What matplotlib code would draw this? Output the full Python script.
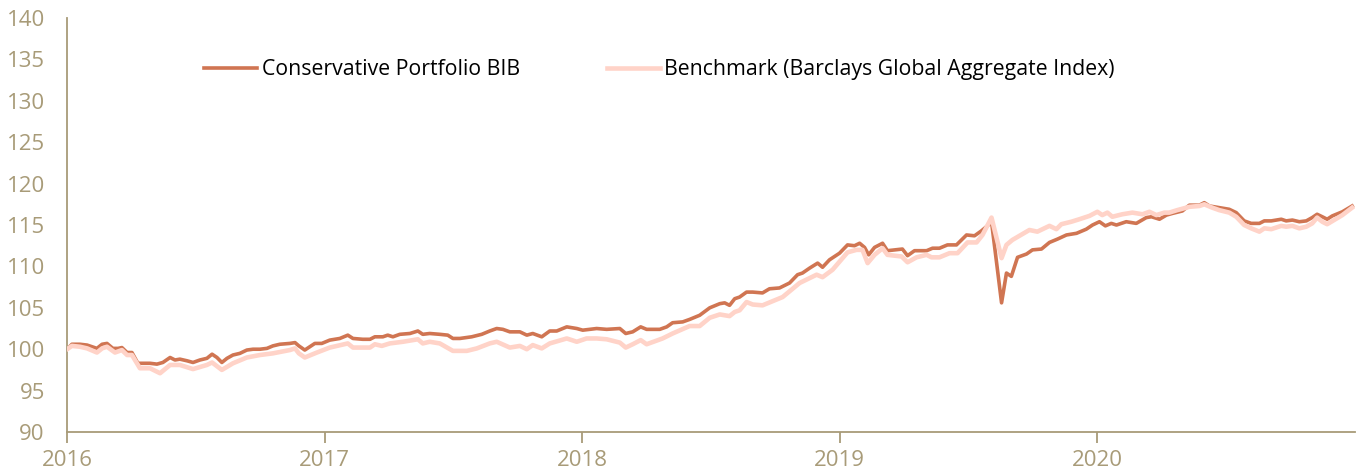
import matplotlib
matplotlib.use("Agg")
import matplotlib.pyplot as plt

plt.rcParams['font.family'] = ['Open Sans', 'DejaVu Sans']

# time in decimal years, values indexed to 100
t_port = [2016.000, 2016.019, 2016.050, 2016.078, 2016.116, 2016.136, 2016.155, 2016.178, 2016.198, 2016.213,
          2016.233, 2016.252, 2016.275, 2016.295, 2016.322, 2016.349, 2016.372, 2016.400, 2016.419, 2016.438,
          2016.466, 2016.489, 2016.516, 2016.543, 2016.563, 2016.582, 2016.601, 2016.621, 2016.644, 2016.671,
          2016.698, 2016.722, 2016.749, 2016.776, 2016.799, 2016.826, 2016.865, 2016.885, 2016.900, 2016.923,
          2016.962, 2016.989, 2017.020, 2017.059, 2017.090, 2017.110, 2017.148, 2017.176, 2017.195, 2017.226,
          2017.245, 2017.265, 2017.292, 2017.331, 2017.362, 2017.381, 2017.408, 2017.447, 2017.478, 2017.498,
          2017.525, 2017.571, 2017.610, 2017.641, 2017.668, 2017.692, 2017.719, 2017.758, 2017.785, 2017.808,
          2017.843, 2017.874, 2017.901, 2017.940, 2017.979, 2018.002, 2018.056, 2018.095, 2018.146, 2018.169,
          2018.196, 2018.227, 2018.250, 2018.301, 2018.328, 2018.351, 2018.390, 2018.417, 2018.456, 2018.495,
          2018.534, 2018.553, 2018.572, 2018.592, 2018.611, 2018.638, 2018.662, 2018.700, 2018.727, 2018.766,
          2018.805, 2018.836, 2018.855, 2018.883, 2018.914, 2018.933, 2018.960, 2018.999, 2019.030, 2019.057,
          2019.077, 2019.096, 2019.112, 2019.135, 2019.166, 2019.185, 2019.243, 2019.263, 2019.290, 2019.337,
          2019.360, 2019.387, 2019.418, 2019.453, 2019.492, 2019.523, 2019.550, 2019.573, 2019.589, 2019.628,
          2019.647, 2019.666, 2019.690, 2019.725, 2019.748, 2019.783, 2019.814, 2019.845, 2019.880, 2019.919,
          2019.957, 2019.981, 2020.008, 2020.031, 2020.054, 2020.074, 2020.112, 2020.151, 2020.190, 2020.210,
          2020.241, 2020.268, 2020.291, 2020.330, 2020.357, 2020.396, 2020.415, 2020.435, 2020.473, 2020.512,
          2020.539, 2020.570, 2020.597, 2020.629, 2020.648, 2020.675, 2020.714, 2020.733, 2020.757, 2020.784,
          2020.811, 2020.834, 2020.853, 2020.873, 2020.892, 2020.912, 2020.951, 2020.989]
portfolio = [100.0, 100.6, 100.6, 100.5, 100.1, 100.6, 100.7, 100.1, 100.1, 100.2,
             99.6, 99.6, 98.3, 98.3, 98.3, 98.2, 98.4, 99.0, 98.7, 98.8,
             98.6, 98.4, 98.7, 98.9, 99.4, 99.0, 98.4, 98.9, 99.3, 99.5,
             99.9, 100.0, 100.0, 100.1, 100.4, 100.6, 100.7, 100.8, 100.4, 99.9,
             100.7, 100.7, 101.1, 101.3, 101.7, 101.3, 101.2, 101.2, 101.5, 101.5,
             101.7, 101.5, 101.8, 101.9, 102.2, 101.8, 101.9, 101.8, 101.7, 101.3,
             101.3, 101.5, 101.8, 102.2, 102.5, 102.4, 102.1, 102.1, 101.7, 101.9,
             101.5, 102.2, 102.2, 102.7, 102.5, 102.3, 102.5, 102.4, 102.5, 101.9,
             102.1, 102.7, 102.4, 102.4, 102.7, 103.2, 103.3, 103.6, 104.1, 105.0,
             105.5, 105.6, 105.3, 106.1, 106.3, 106.9, 106.9, 106.8, 107.3, 107.4,
             108.0, 109.0, 109.2, 109.8, 110.4, 109.9, 110.8, 111.6, 112.6, 112.5,
             112.8, 112.3, 111.4, 112.3, 112.8, 111.9, 112.1, 111.3, 111.9, 111.9,
             112.2, 112.2, 112.6, 112.6, 113.8, 113.7, 114.3, 114.9, 115.4, 105.6,
             109.2, 108.8, 111.1, 111.5, 112.0, 112.1, 112.9, 113.3, 113.8, 114.0,
             114.5, 115.0, 115.4, 114.9, 115.2, 115.0, 115.4, 115.2, 115.9, 116.0,
             115.7, 116.2, 116.4, 116.7, 117.4, 117.4, 117.7, 117.3, 117.1, 116.9,
             116.5, 115.5, 115.2, 115.2, 115.5, 115.5, 115.7, 115.5, 115.6, 115.4,
             115.5, 115.9, 116.3, 116.0, 115.7, 116.1, 116.6, 117.3]

t_bench = [2016.000, 2016.019, 2016.050, 2016.078, 2016.116, 2016.136, 2016.155, 2016.186, 2016.213, 2016.233,
           2016.252, 2016.283, 2016.322, 2016.361, 2016.400, 2016.438, 2016.489, 2016.543, 2016.563, 2016.601,
           2016.644, 2016.698, 2016.749, 2016.799, 2016.865, 2016.885, 2016.900, 2016.923, 2016.970, 2017.020,
           2017.090, 2017.110, 2017.176, 2017.195, 2017.222, 2017.253, 2017.304, 2017.362, 2017.381, 2017.408,
           2017.447, 2017.498, 2017.552, 2017.591, 2017.641, 2017.668, 2017.719, 2017.758, 2017.785, 2017.808,
           2017.843, 2017.874, 2017.940, 2017.979, 2018.017, 2018.056, 2018.095, 2018.146, 2018.169, 2018.196,
           2018.227, 2018.250, 2018.312, 2018.351, 2018.417, 2018.456, 2018.495, 2018.534, 2018.572, 2018.592,
           2018.611, 2018.638, 2018.662, 2018.700, 2018.739, 2018.778, 2018.844, 2018.910, 2018.933, 2018.972,
           2019.011, 2019.030, 2019.065, 2019.088, 2019.108, 2019.135, 2019.166, 2019.185, 2019.240, 2019.263,
           2019.298, 2019.337, 2019.356, 2019.387, 2019.426, 2019.457, 2019.496, 2019.531, 2019.554, 2019.589,
           2019.628, 2019.647, 2019.670, 2019.709, 2019.736, 2019.767, 2019.814, 2019.841, 2019.860, 2019.899,
           2019.930, 2019.969, 2020.000, 2020.019, 2020.039, 2020.058, 2020.097, 2020.136, 2020.175, 2020.202,
           2020.229, 2020.260, 2020.279, 2020.310, 2020.357, 2020.396, 2020.415, 2020.446, 2020.473, 2020.512,
           2020.539, 2020.570, 2020.597, 2020.629, 2020.648, 2020.675, 2020.714, 2020.733, 2020.757, 2020.784,
           2020.811, 2020.834, 2020.853, 2020.873, 2020.892, 2020.951, 2020.989]
benchmark = [100.0, 100.4, 100.3, 100.1, 99.6, 100.1, 100.3, 99.6, 99.9, 99.3,
             99.3, 97.7, 97.7, 97.1, 98.1, 98.1, 97.6, 98.1, 98.4, 97.5,
             98.3, 99.0, 99.3, 99.5, 99.9, 100.1, 99.5, 99.0, 99.6, 100.2,
             100.7, 100.2, 100.2, 100.6, 100.4, 100.7, 100.9, 101.2, 100.7, 100.9,
             100.7, 99.8, 99.8, 100.1, 100.7, 100.9, 100.2, 100.4, 100.0, 100.5,
             100.1, 100.7, 101.3, 100.9, 101.3, 101.3, 101.2, 100.8, 100.2, 100.6,
             101.1, 100.6, 101.3, 101.9, 102.8, 102.8, 103.8, 104.2, 104.0, 104.5,
             104.7, 105.7, 105.4, 105.3, 105.8, 106.3, 108.0, 109.0, 108.7, 109.6,
             111.0, 111.7, 112.0, 112.0, 110.4, 111.4, 112.2, 111.4, 111.2, 110.5,
             111.1, 111.4, 111.1, 111.1, 111.6, 111.6, 112.9, 112.9, 113.8, 115.9,
             111.0, 112.6, 113.2, 113.9, 114.4, 114.2, 114.9, 114.5, 115.1, 115.4,
             115.7, 116.1, 116.6, 116.2, 116.5, 116.0, 116.3, 116.5, 116.3, 116.6,
             116.2, 116.5, 116.5, 116.8, 117.2, 117.3, 117.5, 117.1, 116.8, 116.5,
             116.0, 115.0, 114.6, 114.2, 114.6, 114.5, 114.9, 114.8, 114.9, 114.6,
             114.8, 115.2, 115.9, 115.4, 115.1, 116.2, 117.1]

years = [2016, 2017, 2018, 2019, 2020]
y_ticks = list(range(90, 141, 5))

axis_col = '#A89B78'
fig = plt.figure(figsize=(13.6, 4.75), dpi=100)
ax = fig.add_axes([0.0493, 0.0905, 0.9470, 0.8715])

ax.plot(t_port, portfolio, color='#D07552', lw=2.6, label='Conservative Portfolio BIB', zorder=2)
ax.plot(t_bench, benchmark, color='#FFD3C8', lw=3.3, label='Benchmark (Barclays Global Aggregate Index)', zorder=3)

ax.set_xlim(2016, 2021)
ax.set_ylim(90, 140)
ax.set_xticks(years)
ax.set_xticklabels([str(y) for y in years])
ax.set_yticks(y_ticks)

for s in ['top', 'right']:
    ax.spines[s].set_visible(False)
for s in ['left', 'bottom']:
    ax.spines[s].set_color(axis_col)
    ax.spines[s].set_linewidth(1.3)
ax.tick_params(axis='y', length=0, pad=16, labelsize=16, labelcolor=axis_col)
ax.tick_params(axis='x', length=8, width=1.3, color=axis_col, pad=5, labelsize=16, labelcolor=axis_col)

leg = fig.legend(loc='center', bbox_to_anchor=(0.485, 0.853), ncol=2, frameon=False,
                 fontsize=15.3, handlelength=2.5, handletextpad=0.2, columnspacing=4.1)

fig.savefig('out.png', dpi=100)
